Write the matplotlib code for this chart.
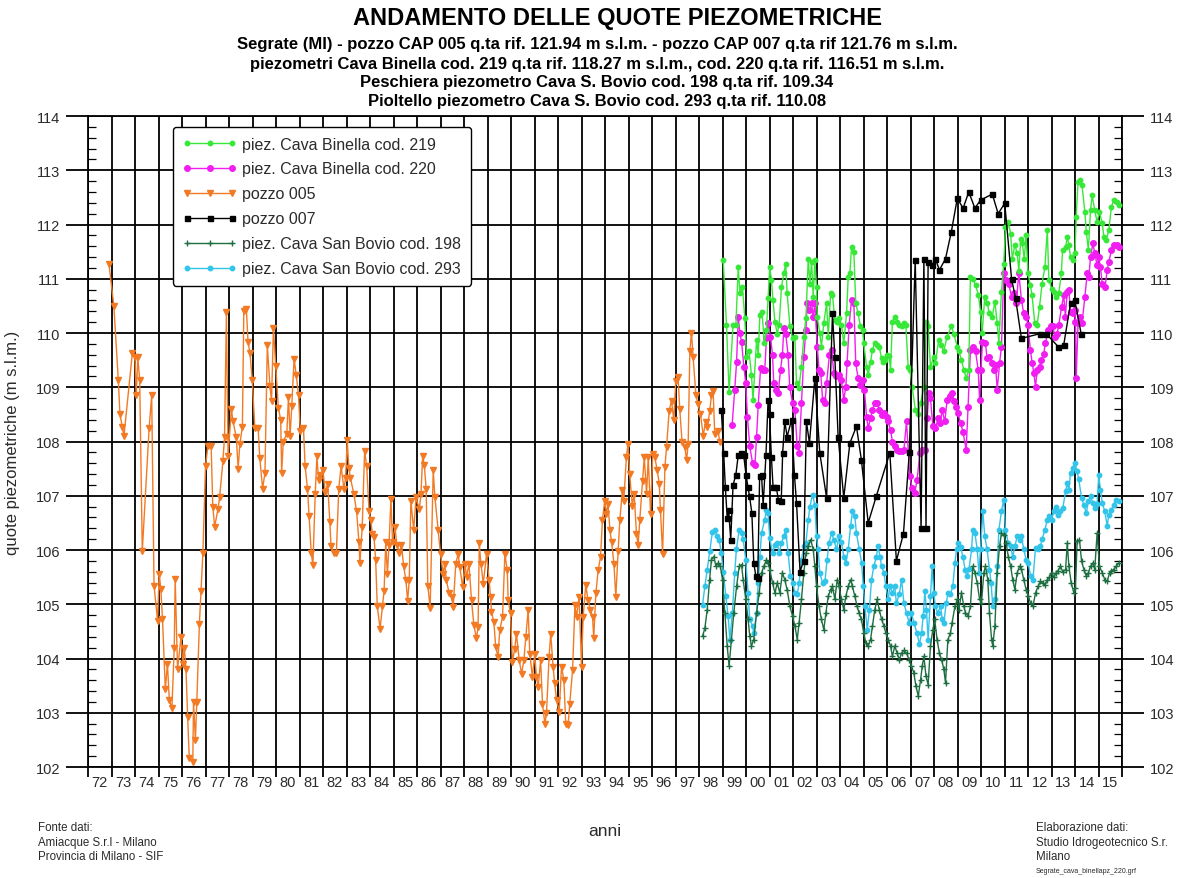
import matplotlib
matplotlib.use("Agg")
import matplotlib.pyplot as plt
from matplotlib.ticker import MultipleLocator, FixedLocator

# ---- data: decimal year / piezometric level (m s.l.m.) ----
pozzo005_t = [1972.89, 1973.10, 1973.29, 1973.36, 1973.46, 1973.53, 1973.89, 1974.00, 1974.05, 1974.12,
              1974.20, 1974.31, 1974.60, 1974.71, 1974.81, 1974.96, 1975.03, 1975.10, 1975.17, 1975.29,
              1975.38, 1975.46, 1975.57, 1975.67, 1975.71, 1975.81, 1975.96, 1976.03, 1976.10, 1976.17,
              1976.24, 1976.31, 1976.46, 1976.49, 1976.57, 1976.63, 1976.74, 1976.81, 1976.89, 1977.00,
              1977.10, 1977.24, 1977.31, 1977.39, 1977.53, 1977.60, 1977.74, 1977.81, 1977.89, 1977.96,
              1978.10, 1978.17, 1978.31, 1978.39, 1978.46, 1978.57, 1978.63, 1978.74, 1978.81, 1978.89,
              1978.99, 1979.10, 1979.24, 1979.31, 1979.43, 1979.53, 1979.63, 1979.74, 1979.81, 1979.89,
              1979.99, 1980.10, 1980.20, 1980.24, 1980.31, 1980.46, 1980.53, 1980.60, 1980.67, 1980.77,
              1980.86, 1980.96, 1981.03, 1981.17, 1981.24, 1981.34, 1981.41, 1981.50, 1981.57, 1981.67,
              1981.74, 1981.81, 1981.89, 1981.99, 1982.10, 1982.20, 1982.29, 1982.34, 1982.46, 1982.57,
              1982.67, 1982.77, 1982.89, 1982.96, 1983.03, 1983.10, 1983.17, 1983.31, 1983.43, 1983.53,
              1983.57, 1983.67, 1983.77, 1983.86, 1983.96, 1984.03, 1984.10, 1984.17, 1984.24, 1984.31,
              1984.43, 1984.53, 1984.60, 1984.67, 1984.74, 1984.81, 1984.89, 1984.96, 1985.06, 1985.14,
              1985.24, 1985.34, 1985.43, 1985.53, 1985.60, 1985.67, 1985.74, 1985.86, 1985.96, 1986.10,
              1986.17, 1986.24, 1986.31, 1986.39, 1986.46, 1986.56, 1986.69, 1986.76, 1986.90, 1987.00,
              1987.11, 1987.18, 1987.25, 1987.37, 1987.47, 1987.54, 1987.65, 1987.75, 1987.82, 1987.94,
              1988.04, 1988.11, 1988.21, 1988.32, 1988.42, 1988.53, 1988.60, 1988.65, 1988.72, 1988.82,
              1988.96, 1989.07, 1989.13, 1989.17, 1989.27, 1989.35, 1989.45, 1989.52, 1989.64, 1989.74,
              1989.84, 1989.88, 1989.98, 1990.06, 1990.16, 1990.23, 1990.35, 1990.45, 1990.55, 1990.63,
              1990.73, 1990.80, 1990.91, 1991.01, 1991.08, 1991.16, 1991.26, 1991.34, 1991.44, 1991.51,
              1991.62, 1991.69, 1991.79, 1991.86, 1991.94, 1992.05, 1992.15, 1992.25, 1992.33, 1992.43,
              1992.50, 1992.62, 1992.72, 1992.79, 1992.90, 1993.00, 1993.07, 1993.18, 1993.28, 1993.38,
              1993.47, 1993.52, 1993.61, 1993.71, 1993.81, 1993.89, 1993.99, 1994.06, 1994.13, 1994.21,
              1994.28, 1994.38, 1994.46, 1994.56, 1994.63, 1994.74, 1994.80, 1994.91, 1994.98, 1995.05,
              1995.16, 1995.24, 1995.34, 1995.41, 1995.48, 1995.60, 1995.67, 1995.77, 1995.84, 1995.94,
              1996.03, 1996.12, 1996.22, 1996.31, 1996.36, 1996.45, 1996.55, 1996.62, 1996.73, 1996.83,
              1996.93, 1997.01, 1997.11, 1997.18, 1997.28, 1997.40, 1997.47, 1997.54, 1997.61, 1997.68,
              1997.75, 1997.87, 1997.96, 1998.06, 1998.18, 1998.28, 1998.36, 1998.46, 1998.53, 1998.60,
              1998.67, 1998.80, 1998.89]
pozzo005_v = [111.28, 110.50, 109.13, 108.50, 108.27, 108.10, 109.64, 109.55, 108.85, 109.55,
              109.13, 105.98, 108.24, 108.85, 105.34, 104.70, 105.56, 105.28, 104.73, 103.43,
              103.90, 103.24, 103.08, 104.20, 105.47, 103.80, 104.40, 103.90, 104.20, 103.80,
              102.92, 102.16, 102.10, 103.20, 102.50, 103.20, 104.64, 105.25, 105.95, 107.54,
              107.92, 107.92, 106.80, 106.43, 106.75, 106.97, 107.64, 108.08, 110.38, 107.73,
              108.60, 108.37, 108.08, 107.50, 107.95, 108.27, 110.40, 110.44, 109.83, 109.64,
              109.13, 108.24, 108.24, 107.70, 107.13, 107.42, 109.77, 109.03, 108.75, 110.09,
              109.39, 108.62, 108.40, 107.42, 108.00, 108.14, 108.82, 108.10, 108.65, 109.52,
              109.23, 108.85, 108.20, 108.24, 107.54, 107.13, 106.62, 105.95, 105.73, 107.04,
              107.73, 107.29, 107.38, 107.48, 107.06, 107.22, 106.52, 106.08, 105.95, 105.95,
              107.13, 107.54, 107.13, 107.32, 108.02, 107.51, 107.32, 107.04, 106.71, 106.14,
              105.76, 106.43, 107.83, 107.54, 106.71, 106.55, 106.30, 106.24, 105.82, 104.96,
              104.55, 104.96, 105.25, 106.14, 105.56, 106.10, 106.94, 106.14, 106.43, 106.10,
              105.95, 106.10, 105.70, 105.44, 105.06, 105.44, 106.90, 106.37, 106.97, 106.75,
              107.04, 107.73, 107.57, 107.13, 105.34, 104.93, 107.47, 106.98, 106.36, 105.93,
              105.56, 105.75, 105.44, 105.20, 105.13, 104.95, 105.75, 105.93, 105.69, 105.32,
              105.75, 105.50, 105.75, 105.07, 104.61, 104.37, 104.58, 106.12, 105.75, 105.38,
              105.93, 105.44, 105.13, 104.86, 104.67, 104.21, 104.03, 104.52, 104.77, 105.93,
              105.63, 105.07, 104.83, 103.94, 104.18, 104.46, 103.97, 103.72, 103.97, 104.40,
              104.89, 104.09, 103.66, 104.09, 103.66, 103.48, 103.97, 103.17, 102.80, 102.99,
              104.03, 104.46, 103.85, 103.54, 103.23, 103.02, 103.85, 103.60, 102.80, 102.77,
              103.17, 103.79, 104.98, 104.77, 105.13, 103.85, 104.77, 105.35, 105.07, 104.89,
              104.77, 104.37, 105.20, 105.63, 105.87, 106.55, 106.91, 106.67, 106.85, 106.36,
              106.15, 105.75, 105.13, 105.99, 106.55, 107.10, 106.91, 107.71, 107.96, 107.40,
              106.82, 107.04, 106.30, 106.09, 106.55, 107.28, 107.71, 107.04, 107.71, 106.67,
              107.77, 107.71, 107.47, 107.22, 106.73, 105.93, 107.53, 107.90, 108.57, 108.75,
              108.39, 109.12, 109.18, 108.60, 107.99, 107.90, 107.65, 107.96, 109.67, 110.00,
              109.55, 108.85, 108.69, 108.51, 108.11, 108.36, 108.26, 108.57, 108.85, 108.94,
              108.14, 108.20, 107.99]

pozzo007_t = [1998.95, 1999.05, 1999.12, 1999.20, 1999.26, 1999.35, 1999.45, 1999.57, 1999.67, 1999.80,
              1999.90, 2000.00, 2000.08, 2000.15, 2000.25, 2000.33, 2000.42, 2000.50, 2000.58, 2000.66,
              2000.73, 2000.85, 2000.94, 2001.00, 2001.08, 2001.15, 2001.28, 2001.38, 2001.50, 2001.56,
              2001.65, 2001.75, 2001.94, 2002.06, 2002.15, 2002.30, 2002.45, 2002.57, 2002.70, 2002.93,
              2003.14, 2003.43, 2003.68, 2003.78, 2003.92, 2004.16, 2004.42, 2004.70, 2004.91, 2005.20,
              2005.55, 2006.12, 2006.40, 2006.70, 2006.95, 2007.20, 2007.45, 2007.57, 2007.66, 2007.75,
              2007.92, 2008.06, 2008.23, 2008.49, 2008.74, 2008.99, 2009.24, 2009.48, 2009.74, 2009.98,
              2010.48, 2010.73, 2011.01, 2011.30, 2011.47, 2011.72, 2012.53, 2012.77, 2013.28, 2013.52,
              2013.81, 2013.99, 2014.26]
pozzo007_v = [108.58, 107.79, 107.17, 106.59, 106.74, 106.19, 107.20, 107.39, 107.75, 107.79,
              107.75, 107.39, 107.17, 106.99, 106.68, 105.76, 105.52, 105.48, 107.36, 107.39,
              106.83, 107.75, 108.77, 108.50, 107.72, 107.17, 107.17, 106.93, 106.90, 107.79,
              108.37, 108.09, 108.40, 107.39, 106.87, 105.60, 105.80, 108.37, 107.97, 109.17,
              107.79, 106.96, 110.36, 109.56, 108.09, 106.96, 107.97, 108.28, 107.66, 106.50,
              107.00, 107.79, 105.80, 106.30, 107.80, 111.35, 106.40, 111.37, 106.40, 111.30,
              111.25, 111.37, 111.16, 111.37, 111.87, 112.48, 112.30, 112.60, 112.30, 112.45,
              112.56, 112.20, 112.39, 111.00, 110.64, 109.90, 109.99, 109.99, 109.75, 109.78,
              110.55, 110.61, 109.99]

binella219_t = [1999.03, 1999.17, 1999.28, 1999.45, 1999.57, 1999.67, 1999.74, 1999.85, 1999.95, 2000.02,
                2000.13, 2000.23, 2000.30, 2000.45, 2000.52, 2000.59, 2000.68, 2000.78, 2000.87, 2000.94,
                2001.01, 2001.08, 2001.15, 2001.23, 2001.33, 2001.41, 2001.51, 2001.61, 2001.69, 2001.75,
                2001.87, 2001.98, 2002.08, 2002.15, 2002.25, 2002.36, 2002.46, 2002.55, 2002.65, 2002.72,
                2002.79, 2002.86, 2002.93, 2003.00, 2003.03, 2003.14, 2003.21, 2003.31, 2003.43, 2003.50,
                2003.60, 2003.68, 2003.78, 2003.88, 2003.96, 2004.06, 2004.16, 2004.28, 2004.35, 2004.42,
                2004.49, 2004.59, 2004.67, 2004.77, 2004.87, 2004.96, 2005.01, 2005.13, 2005.20, 2005.30,
                2005.38, 2005.48, 2005.57, 2005.67, 2005.77, 2005.84, 2005.91, 2005.98, 2006.09, 2006.15,
                2006.23, 2006.33, 2006.43, 2006.52, 2006.62, 2006.72, 2006.80, 2006.90, 2006.97, 2007.07,
                2007.21, 2007.33, 2007.43, 2007.57, 2007.67, 2007.75, 2007.85, 2007.99, 2008.06, 2008.20,
                2008.31, 2008.41, 2008.56, 2008.74, 2008.84, 2008.99, 2009.06, 2009.17, 2009.27, 2009.37,
                2009.48, 2009.55, 2009.65, 2009.77, 2009.89, 2009.98, 2010.05, 2010.16, 2010.26, 2010.36,
                2010.48, 2010.59, 2010.69, 2010.76, 2010.87, 2010.97, 2011.04, 2011.16, 2011.26, 2011.33,
                2011.44, 2011.54, 2011.61, 2011.69, 2011.76, 2011.84, 2011.92, 2012.00, 2012.10, 2012.17,
                2012.29, 2012.39, 2012.49, 2012.60, 2012.72, 2012.82, 2012.89, 2013.00, 2013.10, 2013.20,
                2013.31, 2013.42, 2013.47, 2013.60, 2013.67, 2013.74, 2013.81, 2013.91, 2014.00, 2014.05,
                2014.13, 2014.23, 2014.30, 2014.42, 2014.48, 2014.57, 2014.66, 2014.73, 2014.84, 2014.94,
                2015.04, 2015.16, 2015.23, 2015.33, 2015.44, 2015.55, 2015.65, 2015.79, 2015.89]
binella219_v = [111.34, 110.15, 108.92, 110.15, 110.15, 111.22, 110.73, 110.85, 110.27, 109.56,
                109.66, 109.23, 108.77, 109.87, 109.60, 110.33, 110.39, 109.81, 110.06, 110.64,
                111.22, 110.98, 110.60, 110.21, 109.99, 110.15, 110.85, 111.10, 111.28, 110.73,
                110.12, 109.90, 109.93, 109.07, 108.98, 109.38, 109.93, 110.27, 111.37, 110.91,
                111.31, 110.67, 111.34, 110.85, 110.30, 110.00, 109.75, 110.18, 110.55, 109.93,
                110.73, 110.70, 110.24, 110.21, 110.27, 110.15, 109.81, 110.36, 111.04, 111.10,
                111.59, 111.50, 110.55, 110.36, 110.12, 110.06, 109.81, 109.38, 109.23, 109.47,
                109.69, 109.81, 109.78, 109.75, 109.53, 109.47, 109.50, 109.60, 109.58, 109.32,
                110.21, 110.30, 110.21, 110.15, 110.12, 110.18, 110.15, 109.38, 109.32, 109.00,
                108.58, 108.50, 108.71, 109.00, 110.21, 110.12, 109.38, 109.56, 109.45, 109.87,
                109.78, 109.66, 109.93, 110.12, 109.99, 109.75, 109.66, 109.50, 109.32, 109.17,
                109.32, 111.04, 111.00, 110.88, 110.70, 110.39, 110.00, 110.67, 110.55, 110.36,
                110.30, 110.58, 110.18, 109.81, 110.76, 111.28, 111.96, 112.05, 111.83, 111.37,
                111.62, 111.47, 111.15, 111.74, 111.65, 111.37, 111.80, 111.10, 110.88, 110.70,
                110.18, 110.15, 110.48, 110.91, 111.22, 111.90, 110.98, 110.82, 110.76, 110.67,
                110.73, 111.10, 111.53, 111.59, 111.77, 111.62, 111.40, 111.34, 111.47, 112.14,
                112.79, 112.82, 112.72, 112.23, 111.87, 111.53, 112.26, 112.54, 112.26, 112.05,
                112.23, 112.02, 111.77, 111.71, 111.90, 112.33, 112.45, 112.42, 112.36]

binella220_t = [1999.41, 1999.52, 1999.60, 1999.67, 1999.74, 1999.81, 1999.91, 1999.99, 2000.06, 2000.16,
                2000.28, 2000.38, 2000.45, 2000.52, 2000.62, 2000.71, 2000.80, 2000.87, 2000.94, 2001.04,
                2001.13, 2001.18, 2001.27, 2001.37, 2001.47, 2001.55, 2001.61, 2001.69, 2001.79, 2001.86,
                2001.98, 2002.08, 2002.18, 2002.26, 2002.36, 2002.46, 2002.55, 2002.60, 2002.69, 2002.79,
                2002.86, 2002.93, 2003.03, 2003.11, 2003.18, 2003.26, 2003.36, 2003.43, 2003.55, 2003.64,
                2003.74, 2003.85, 2003.96, 2004.06, 2004.16, 2004.25, 2004.30, 2004.39, 2004.49, 2004.59,
                2004.67, 2004.77, 2004.87, 2004.98, 2005.04, 2005.13, 2005.20, 2005.30, 2005.38, 2005.48,
                2005.58, 2005.67, 2005.77, 2005.87, 2005.98, 2006.05, 2006.15, 2006.23, 2006.33, 2006.43,
                2006.52, 2006.62, 2006.72, 2006.83, 2006.97, 2007.07, 2007.18, 2007.28, 2007.40, 2007.50,
                2007.61, 2007.71, 2007.78, 2007.85, 2007.95, 2008.06, 2008.18, 2008.27, 2008.34, 2008.46,
                2008.56, 2008.66, 2008.77, 2008.84, 2008.94, 2009.02, 2009.13, 2009.23, 2009.37, 2009.45,
                2009.55, 2009.65, 2009.77, 2009.88, 2009.94, 2010.00, 2010.06, 2010.19, 2010.26, 2010.36,
                2010.45, 2010.55, 2010.62, 2010.69, 2010.79, 2010.87, 2010.97, 2011.07, 2011.18, 2011.30,
                2011.40, 2011.50, 2011.61, 2011.72, 2011.82, 2011.92, 2012.00, 2012.10, 2012.18, 2012.25,
                2012.32, 2012.39, 2012.49, 2012.57, 2012.67, 2012.74, 2012.86, 2012.96, 2013.06, 2013.14,
                2013.24, 2013.31, 2013.43, 2013.52, 2013.59, 2013.67, 2013.74, 2013.81, 2013.91, 2013.99,
                2014.02, 2014.05, 2014.13, 2014.23, 2014.30, 2014.42, 2014.52, 2014.59, 2014.66, 2014.76,
                2014.84, 2014.94, 2015.01, 2015.08, 2015.16, 2015.28, 2015.37, 2015.44, 2015.55, 2015.65,
                2015.79, 2015.87]
binella220_v = [108.31, 108.95, 109.47, 110.30, 110.00, 109.84, 109.38, 109.07, 108.46, 107.91,
                107.60, 107.57, 108.09, 108.67, 109.35, 109.32, 109.32, 109.90, 110.18, 109.93,
                109.60, 109.07, 108.95, 108.89, 109.32, 109.60, 110.09, 109.99, 109.60, 109.01,
                108.71, 108.58, 107.91, 107.79, 108.71, 109.56, 110.06, 110.55, 110.42, 110.55,
                110.30, 110.55, 109.75, 109.32, 109.26, 108.77, 108.71, 109.07, 109.60, 109.69,
                109.26, 109.20, 109.23, 109.13, 108.77, 109.01, 109.44, 110.15, 110.61, 110.55,
                109.44, 109.17, 109.04, 109.13, 108.95, 108.46, 108.25, 108.43, 108.58, 108.71,
                108.71, 108.58, 108.49, 108.52, 108.46, 108.37, 108.21, 108.00, 107.91, 107.85,
                107.82, 107.82, 107.85, 108.37, 107.36, 107.14, 107.05, 107.29, 107.79, 107.85,
                107.85, 108.43, 108.89, 108.80, 108.28, 108.25, 108.43, 108.34, 108.58, 108.37,
                108.77, 108.83, 108.89, 108.74, 108.64, 108.52, 108.34, 108.18, 107.85, 108.64,
                109.69, 109.75, 109.66, 109.32, 108.77, 109.32, 109.84, 109.81, 109.53, 109.56,
                109.44, 109.32, 109.41, 108.95, 109.44, 109.75, 111.10, 110.98, 110.91, 110.67,
                110.73, 110.55, 111.10, 110.61, 110.36, 110.30, 110.15, 109.69, 109.44, 109.26,
                109.01, 109.32, 109.38, 109.50, 109.62, 109.81, 110.06, 110.12, 110.12, 109.93,
                109.99, 110.15, 110.48, 110.70, 110.30, 110.76, 110.79, 110.39, 110.36, 110.42,
                110.20, 109.17, 110.18, 110.30, 110.18, 110.67, 111.10, 111.04, 111.40, 111.65,
                111.47, 111.25, 111.40, 111.22, 110.91, 110.85, 111.16, 111.31, 111.53, 111.62,
                111.62, 111.59]

bovio198_t = [1998.15, 1998.25, 1998.35, 1998.45, 1998.53, 1998.63, 1998.72, 1998.82, 1998.91, 1999.00,
              1999.10, 1999.20, 1999.28, 1999.38, 1999.48, 1999.60, 1999.71, 1999.81, 1999.88, 1999.99,
              2000.09, 2000.16, 2000.23, 2000.33, 2000.45, 2000.56, 2000.66, 2000.76, 2000.87, 2000.94,
              2001.01, 2001.13, 2001.23, 2001.33, 2001.44, 2001.55, 2001.65, 2001.75, 2001.87, 2001.98,
              2002.08, 2002.18, 2002.26, 2002.36, 2002.46, 2002.55, 2002.65, 2002.75, 2002.86, 2002.93,
              2003.00, 2003.11, 2003.21, 2003.31, 2003.40, 2003.50, 2003.60, 2003.68, 2003.78, 2003.88,
              2003.96, 2004.06, 2004.16, 2004.25, 2004.35, 2004.45, 2004.53, 2004.63, 2004.73, 2004.81,
              2004.91, 2005.01, 2005.10, 2005.20, 2005.30, 2005.38, 2005.48, 2005.58, 2005.67, 2005.77,
              2005.87, 2005.95, 2006.05, 2006.15, 2006.23, 2006.33, 2006.43, 2006.52, 2006.62, 2006.72,
              2006.83, 2006.94, 2007.04, 2007.14, 2007.23, 2007.33, 2007.43, 2007.50, 2007.57, 2007.66,
              2007.75, 2007.85, 2007.95, 2008.03, 2008.13, 2008.23, 2008.32, 2008.42, 2008.49, 2008.59,
              2008.70, 2008.77, 2008.89, 2008.99, 2009.06, 2009.17, 2009.27, 2009.34, 2009.45, 2009.55,
              2009.65, 2009.74, 2009.84, 2009.94, 2010.02, 2010.12, 2010.19, 2010.29, 2010.36, 2010.45,
              2010.50, 2010.59, 2010.69, 2010.79, 2010.87, 2010.97, 2011.07, 2011.16, 2011.26, 2011.35,
              2011.44, 2011.54, 2011.64, 2011.72, 2011.82, 2011.92, 2012.01, 2012.11, 2012.21, 2012.32,
              2012.43, 2012.53, 2012.63, 2012.72, 2012.82, 2012.91, 2013.00, 2013.10, 2013.20, 2013.28,
              2013.38, 2013.48, 2013.60, 2013.67, 2013.74, 2013.84, 2013.95, 2014.02, 2014.09, 2014.19,
              2014.28, 2014.38, 2014.48, 2014.57, 2014.66, 2014.76, 2014.84, 2014.94, 2015.04, 2015.16,
              2015.27, 2015.37, 2015.47, 2015.55, 2015.65, 2015.75, 2015.87]
bovio198_v = [104.41, 104.56, 104.90, 105.45, 105.82, 105.88, 105.70, 105.76, 105.70, 105.45,
              104.84, 104.23, 103.86, 104.35, 104.84, 105.33, 105.70, 105.73, 105.45, 105.09,
              104.72, 104.41, 104.23, 104.35, 104.84, 105.21, 105.58, 105.70, 105.82, 105.76,
              105.64, 105.39, 105.21, 105.39, 105.21, 105.58, 105.45, 105.27, 104.96, 104.78,
              104.60, 104.35, 104.66, 105.09, 105.58, 105.94, 106.07, 106.19, 106.01, 105.70,
              105.33, 104.96, 104.72, 104.53, 104.84, 105.15, 105.27, 105.33, 105.09, 105.45,
              105.33, 105.09, 104.90, 105.15, 105.33, 105.45, 105.33, 105.15, 104.96, 104.84,
              104.72, 104.47, 104.29, 104.23, 104.35, 104.60, 104.90, 105.09, 104.90, 104.72,
              104.60, 104.47, 104.35, 104.23, 104.04, 104.23, 104.10, 103.98, 104.10, 104.15,
              104.10, 103.98, 103.86, 103.74, 103.49, 103.31, 103.61, 103.86, 104.04, 103.67,
              103.52, 104.23, 104.53, 104.72, 104.35, 104.10, 103.98, 103.80, 103.55, 104.35,
              104.47, 104.66, 104.96, 105.09, 104.90, 105.21, 104.96, 104.84, 104.78, 104.96,
              105.70, 105.58, 105.39, 105.09, 105.02, 105.58, 105.70, 105.45, 104.84, 104.35,
              104.23, 104.60, 105.58, 106.07, 106.31, 106.28, 106.13, 105.88, 105.70, 105.45,
              105.27, 105.58, 105.70, 105.65, 105.45, 105.27, 105.15, 105.02, 104.96, 105.21,
              105.33, 105.42, 105.39, 105.36, 105.45, 105.50, 105.58, 105.50, 105.58, 105.62,
              105.70, 105.60, 105.64, 106.13, 105.70, 105.39, 105.21, 105.30, 106.16, 106.19,
              105.79, 105.64, 105.52, 105.58, 105.70, 105.76, 105.64, 106.31, 105.70, 105.58,
              105.45, 105.42, 105.58, 105.62, 105.64, 105.70, 105.76]

bovio293_t = [1998.15, 1998.25, 1998.35, 1998.46, 1998.57, 1998.67, 1998.77, 1998.86, 1998.95, 1999.03,
              1999.14, 1999.24, 1999.31, 1999.42, 1999.52, 1999.59, 1999.71, 1999.81, 1999.88, 1999.99,
              2000.09, 2000.16, 2000.28, 2000.33, 2000.45, 2000.52, 2000.59, 2000.66, 2000.80, 2000.87,
              2000.94, 2001.01, 2001.13, 2001.23, 2001.33, 2001.41, 2001.51, 2001.61, 2001.69, 2001.79,
              2001.89, 2002.00, 2002.08, 2002.18, 2002.26, 2002.36, 2002.46, 2002.55, 2002.65, 2002.72,
              2002.83, 2002.93, 2003.00, 2003.07, 2003.14, 2003.26, 2003.36, 2003.45, 2003.53, 2003.64,
              2003.74, 2003.85, 2003.96, 2004.06, 2004.16, 2004.25, 2004.35, 2004.45, 2004.53, 2004.63,
              2004.70, 2004.82, 2004.92, 2004.99, 2005.06, 2005.16, 2005.25, 2005.34, 2005.44, 2005.55,
              2005.62, 2005.70, 2005.77, 2005.87, 2005.95, 2006.05, 2006.12, 2006.23, 2006.33, 2006.40,
              2006.52, 2006.62, 2006.72, 2006.83, 2006.94, 2007.04, 2007.14, 2007.28, 2007.38, 2007.47,
              2007.54, 2007.61, 2007.68, 2007.75, 2007.85, 2007.92, 2007.99, 2008.06, 2008.16, 2008.28,
              2008.35, 2008.42, 2008.52, 2008.60, 2008.70, 2008.80, 2008.89, 2008.96, 2009.03, 2009.13,
              2009.23, 2009.32, 2009.41, 2009.49, 2009.60, 2009.65, 2009.74, 2009.84, 2009.91, 2009.98,
              2010.08, 2010.16, 2010.26, 2010.36, 2010.43, 2010.50, 2010.59, 2010.69, 2010.76, 2010.87,
              2010.97, 2011.04, 2011.16, 2011.26, 2011.35, 2011.44, 2011.54, 2011.64, 2011.72, 2011.82,
              2011.92, 2012.01, 2012.11, 2012.21, 2012.32, 2012.43, 2012.53, 2012.60, 2012.72, 2012.82,
              2012.91, 2013.00, 2013.10, 2013.20, 2013.28, 2013.38, 2013.48, 2013.60, 2013.67, 2013.74,
              2013.81, 2013.91, 2013.99, 2014.09, 2014.16, 2014.28, 2014.38, 2014.48, 2014.57, 2014.66,
              2014.76, 2014.84, 2014.94, 2015.01, 2015.08, 2015.16, 2015.27, 2015.37, 2015.44, 2015.55,
              2015.65, 2015.75, 2015.87]
bovio293_v = [104.99, 105.33, 105.64, 105.98, 106.34, 106.37, 106.25, 106.19, 105.94, 105.60,
              105.15, 104.78, 104.35, 104.84, 105.58, 106.01, 106.37, 106.31, 106.20, 105.82,
              105.21, 104.72, 104.60, 104.47, 104.84, 105.39, 105.88, 106.31, 106.56, 106.74,
              106.68, 106.22, 105.94, 106.10, 106.13, 105.94, 106.13, 106.25, 106.37, 105.94,
              105.52, 105.39, 105.20, 105.18, 105.39, 105.82, 106.07, 106.13, 106.56, 106.80,
              107.02, 106.83, 106.25, 106.01, 105.58, 105.39, 105.42, 105.82, 106.13, 106.31,
              106.19, 106.01, 106.25, 106.15, 105.88, 105.76, 106.01, 106.44, 106.71, 106.62,
              106.31, 106.01, 105.76, 105.33, 104.96, 104.53, 104.90, 105.45, 105.70, 105.88,
              106.07, 105.88, 105.70, 105.58, 105.33, 105.09, 105.33, 105.20, 105.33, 105.02,
              105.18, 105.45, 105.02, 104.84, 104.66, 104.84, 104.66, 104.47, 104.26, 104.47,
              104.78, 105.24, 104.90, 104.35, 105.15, 105.70, 105.21, 104.96, 104.84, 104.96,
              104.72, 104.66, 105.02, 105.21, 105.18, 105.33, 105.76, 106.01, 106.13, 106.05,
              105.88, 105.64, 105.52, 105.65, 106.01, 106.37, 106.31, 106.01, 105.58, 106.01,
              106.71, 106.25, 106.01, 105.64, 105.39, 104.96, 105.09, 105.70, 106.37, 106.71,
              106.93, 106.37, 106.13, 106.07, 105.88, 106.07, 106.25, 106.19, 106.25, 106.01,
              105.82, 105.76, 105.52, 105.45, 106.04, 106.01, 106.07, 106.20, 106.37, 106.56,
              106.62, 106.56, 106.71, 106.80, 106.65, 106.71, 106.77, 107.08, 107.23, 107.10,
              107.42, 107.51, 107.60, 107.45, 107.30, 106.96, 106.83, 106.68, 106.90, 106.99,
              106.87, 106.77, 106.85, 107.39, 107.11, 106.87, 106.71, 106.44, 106.65, 106.74,
              106.83, 106.93, 106.90]

year_labels = ["72", "73", "74", "75", "76", "77", "78", "79", "80", "81", "82", "83", "84", "85",
               "86", "87", "88", "89", "90", "91", "92", "93", "94", "95", "96", "97", "98", "99",
               "00", "01", "02", "03", "04", "05", "06", "07", "08", "09", "10", "11", "12", "13",
               "14", "15"]

# ---- figure ----
W, H = 1193, 879
fig = plt.figure(figsize=(W / 100, H / 100), dpi=100)
fig.patch.set_facecolor("white")

SANS = ["Liberation Sans", "DejaVu Sans"]
TXT = "#2b2b2b"

AX_L, AX_R, AX_T, AX_B = 88, 1122, 117, 768
ax = fig.add_axes([AX_L / W, 1 - AX_B / H, (AX_R - AX_L) / W, (AX_B - AX_T) / H])
ax.set_xlim(1972, 2016)
ax.set_ylim(102, 114)

# grid: one vertical line per year, one horizontal per metre
ax.xaxis.set_major_locator(MultipleLocator(1))
ax.yaxis.set_major_locator(MultipleLocator(1))
ax.yaxis.set_minor_locator(MultipleLocator(0.2))
ax.grid(True, which="major", color="black", linewidth=1.3, zorder=0)
ax.set_axisbelow(True)

ax.tick_params(axis="y", which="major", direction="out", length=16, width=1.3,
               left=True, right=True, labelleft=True, labelright=True,
               labelsize=10.5, labelcolor=TXT, pad=4)
ax.tick_params(axis="y", which="minor", direction="in", length=6, width=0.9,
               left=True, right=True)
ax.tick_params(axis="x", which="major", direction="out", length=7, width=1.3,
               labelbottom=False, top=False)
year_centres = [1972.5 + i for i in range(len(year_labels))]
ax.xaxis.set_minor_locator(FixedLocator(year_centres))
ax.set_xticks(year_centres, labels=year_labels, minor=True)
ax.tick_params(axis="x", which="minor", length=0, labelsize=10.5, labelcolor=TXT, pad=6)
for lab in ax.get_xticklabels(minor=True) + ax.get_yticklabels():
    lab.set_fontfamily(SANS)
for lab in ax.yaxis.get_ticklabels(which="major"):
    lab.set_fontfamily(SANS)
for sp in ax.spines.values():
    sp.set_linewidth(1.3)

# ---- series ----
series = [
    (binella219_t, binella219_v, "piez. Cava Binella cod. 219", "#38e838", "o", 3.2),
    (binella220_t, binella220_v, "piez. Cava Binella cod. 220", "#f01ef0", "o", 4.0),
    (pozzo005_t, pozzo005_v, "pozzo 005", "#f27a24", "v", 4.0),
    (pozzo007_t, pozzo007_v, "pozzo 007", "#000000", "s", 3.6),
    (bovio198_t, bovio198_v, "piez. Cava San Bovio cod. 198", "#1d6e40", "+", 4.0),
    (bovio293_t, bovio293_v, "piez. Cava San Bovio cod. 293", "#33c4ea", "o", 3.2),
]
draw_order = [2, 5, 4, 1, 0, 3]
handles = {}
for i in draw_order:
    t, v, name, col, mk, ms = series[i]
    ln, = ax.plot(t, v, color=col, linewidth=1.0, marker=mk, markersize=ms,
                  markeredgewidth=1.0, markerfacecolor=col, markeredgecolor=col,
                  label=name, zorder=3)
    handles[i] = ln

leg = ax.legend([handles[i] for i in range(6)], [s[2] for s in series],
                loc="upper left",
                bbox_to_anchor=((173 - AX_L) / (AX_R - AX_L), (AX_B - 128) / (AX_B - AX_T)),
                borderaxespad=0, numpoints=3, handlelength=3.4, handletextpad=0.35,
                labelspacing=0.62, borderpad=0.6, frameon=True, fancybox=True, framealpha=1,
                edgecolor="black", prop={"family": SANS, "size": 11.5})
leg.get_frame().set_linewidth(1.0)
leg.set_zorder(5)
for txt in leg.get_texts():
    txt.set_color(TXT)

ax.set_ylabel("quote piezometriche (m s.l.m.)", fontsize=12, family=SANS, color=TXT)
ax.yaxis.set_label_coords(-(AX_L - 20) / (AX_R - AX_L), 0.5)

# ---- titles ----
fig.text(617 / W, 1 - 19 / H, "ANDAMENTO DELLE QUOTE PIEZOMETRICHE", ha="center", va="center",
         fontsize=17, fontweight="bold", family=SANS, color="black")
subtitles = [
    "Segrate (MI) - pozzo CAP 005 q.ta rif. 121.94 m s.l.m. - pozzo CAP 007 q.ta rif 121.76 m s.l.m.",
    "piezometri Cava Binella cod. 219 q.ta rif. 118.27 m s.l.m., cod. 220 q.ta rif. 116.51 m s.l.m.",
    "Peschiera piezometro Cava S. Bovio cod. 198 q.ta rif. 109.34",
    "Pioltello piezometro Cava S. Bovio cod. 293 q.ta rif. 110.08",
]
for k, s in enumerate(subtitles):
    fig.text(597 / W, 1 - (45 + 19 * k) / H, s, ha="center", va="center",
             fontsize=12, fontweight="bold", family=SANS, color="black")

# ---- footer ----
fig.text(605 / W, 1 - 832 / H, "anni", ha="center", va="center", fontsize=12.5, family=SANS, color=TXT)
fig.text(38 / W, 1 - 822 / H, "Fonte dati:\nAmiacque S.r.l - Milano\nProvincia di Milano - SIF",
         ha="left", va="top", fontsize=8.3, family=SANS, color=TXT, linespacing=1.3)
fig.text(1036 / W, 1 - 822 / H, "Elaborazione dati:\nStudio Idrogeotecnico S.r.\nMilano",
         ha="left", va="top", fontsize=8.3, family=SANS, color=TXT, linespacing=1.3)
fig.text(1036 / W, 1 - 872 / H, "Segrate_cava_binellapz_220.grf", ha="left", va="center",
         fontsize=5, family=SANS, color=TXT)

fig.savefig("out.png", dpi=100, facecolor="white")
